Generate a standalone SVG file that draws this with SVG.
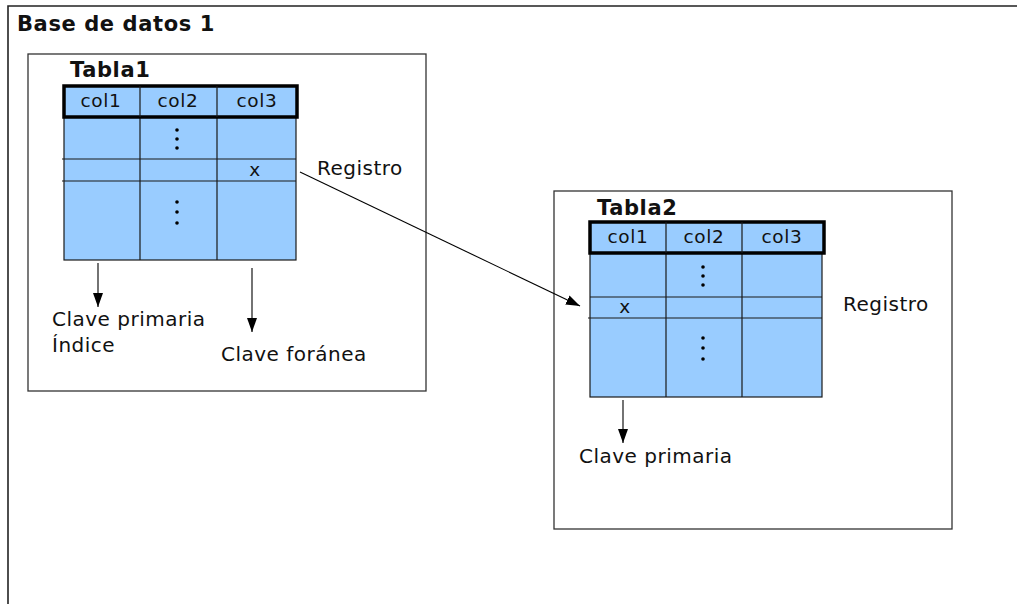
<svg xmlns="http://www.w3.org/2000/svg" width="1026" height="604" viewBox="0 0 1026 604">
  <style>
    .frame { fill: #ffffff; stroke: #333333; stroke-width: 1.3; }
    .cell { fill: #99ccff; stroke: #1a1a1a; stroke-width: 1.2; }
    .head { fill: #99ccff; stroke: #000000; stroke-width: 3.5; }
    .grid { stroke: #1a1a1a; stroke-width: 1.2; fill: none; }
    .lbl { font-family: "DejaVu Sans", Verdana, sans-serif; font-size: 20px; letter-spacing: 0.5px; fill: #111111; }
    .col { font-family: "DejaVu Sans", Verdana, sans-serif; font-size: 18.5px; letter-spacing: 0.6px; fill: #111111; text-anchor: middle; }
    .ttl { font-family: "DejaVu Sans", Verdana, sans-serif; font-size: 21px; letter-spacing: 0.6px; font-weight: bold; fill: #111111; }
    .dot { fill: #000000; }
    .conn { stroke: #000000; stroke-width: 1.1; fill: none; marker-end: url(#tip); }
  </style>
  <defs>
    <marker id="tip" viewBox="0 0 14 10" refX="14" refY="5" markerWidth="14" markerHeight="10" markerUnits="userSpaceOnUse" orient="auto">
      <path d="M0,0 L14,5 L0,10 Z" fill="#000000"/>
    </marker>
  </defs>

  <rect width="1026" height="604" fill="#ffffff"/>

  <!-- database frame -->
  <g id="db1">
    <path d="M8,604 V6 H1017" fill="none" stroke="#222222" stroke-width="1.6"/>
    <text class="ttl" x="17" y="31">Base de datos 1</text>
  </g>

  <!-- first table -->
  <g id="tabla1">
    <rect class="frame" x="28" y="54" width="398" height="337"/>
    <text class="ttl" x="70" y="77">Tabla1</text>
    <rect class="cell" x="64" y="117" width="232" height="143"/>
    <path class="grid" d="M62,159 H296 M62,181 H296 M140,117 V260 M217,117 V260"/>
    <rect class="head" x="64" y="86" width="233" height="31"/>
    <path class="grid" d="M140,86 V117 M217,86 V117"/>
    <text class="col" x="101" y="107">col1</text>
    <text class="col" x="178" y="107">col2</text>
    <text class="col" x="257" y="107">col3</text>
    <text class="col" x="255" y="176">x</text>
    <circle class="dot" cx="177" cy="130" r="1.8"/>
    <circle class="dot" cx="177" cy="139" r="1.8"/>
    <circle class="dot" cx="177" cy="148" r="1.8"/>
    <circle class="dot" cx="177" cy="202" r="1.8"/>
    <circle class="dot" cx="177" cy="212" r="1.8"/>
    <circle class="dot" cx="177" cy="223" r="1.8"/>
    <text class="lbl" x="52" y="326">Clave primaria</text>
    <text class="lbl" x="52" y="352">Índice</text>
    <text class="lbl" x="221" y="361">Clave foránea</text>
    <text class="lbl" x="317" y="175">Registro</text>
  </g>

  <!-- second table -->
  <g id="tabla2">
    <rect class="frame" x="554" y="191" width="398" height="338"/>
    <text class="ttl" x="597" y="215">Tabla2</text>
    <rect class="cell" x="590" y="253" width="232" height="144"/>
    <path class="grid" d="M588,318 H822 M590,297 H822 M666,253 V397 M742,253 V397"/>
    <rect class="head" x="590" y="222" width="234" height="31"/>
    <path class="grid" d="M666,222 V253 M742,222 V253"/>
    <text class="col" x="628" y="243">col1</text>
    <text class="col" x="704" y="243">col2</text>
    <text class="col" x="782" y="243">col3</text>
    <text class="col" x="625" y="313">x</text>
    <circle class="dot" cx="703" cy="267" r="1.8"/>
    <circle class="dot" cx="703" cy="276" r="1.8"/>
    <circle class="dot" cx="703" cy="285" r="1.8"/>
    <circle class="dot" cx="703" cy="338" r="1.8"/>
    <circle class="dot" cx="703" cy="348" r="1.8"/>
    <circle class="dot" cx="703" cy="359" r="1.8"/>
    <text class="lbl" x="579" y="463">Clave primaria</text>
    <text class="lbl" x="843" y="311">Registro</text>
  </g>

  <!-- connectors -->
  <g id="connectors">
    <path class="conn" d="M300,172 L580,306"/>
    <path class="conn" d="M98,263 V307"/>
    <path class="conn" d="M252,268 V332"/>
    <path class="conn" d="M623,400 V443"/>
  </g>
</svg>
